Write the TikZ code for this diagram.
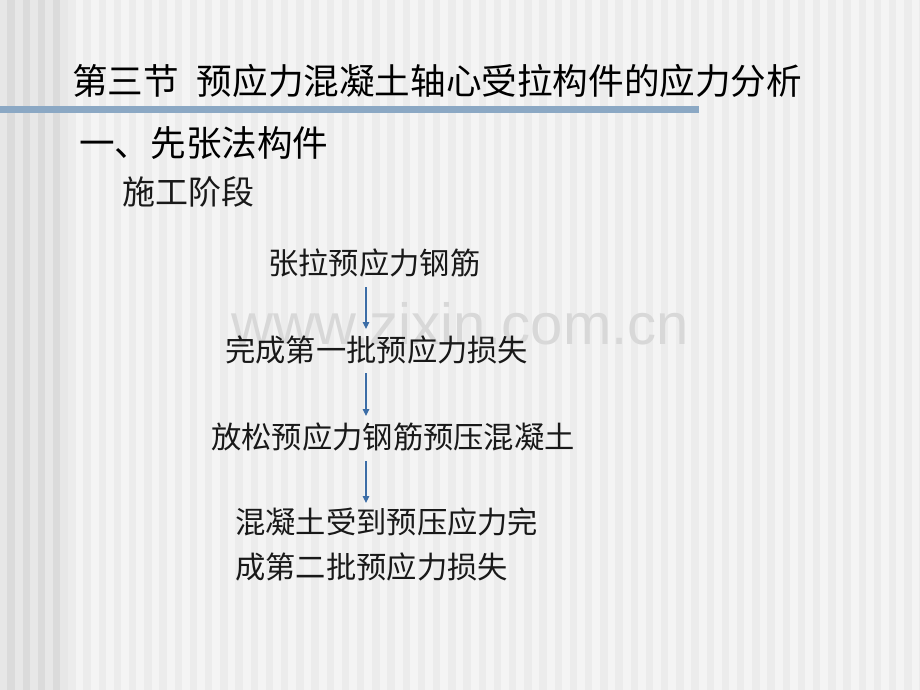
\documentclass[tikz,border=0pt]{standalone}
\usepackage{fontspec}
\newfontfamily\cjk{Noto Sans CJK SC}
\setmainfont{Liberation Sans}
\usetikzlibrary{arrows.meta}
\definecolor{bglight}{HTML}{F4F4F4}
\definecolor{bgdark}{HTML}{ECECEC}
\definecolor{edgelight}{HTML}{E7E7E7}
\definecolor{edgedark}{HTML}{DBDBDB}
\definecolor{barblue}{HTML}{8BA8C4}
\definecolor{arrblue}{HTML}{3C6DA6}
\definecolor{wmgray}{HTML}{D8D8D8}
\tikzset{
  titletext/.style={anchor=base west,inner sep=0pt,font=\cjk\fontsize{35.6}{40}\selectfont,text=black},
  subtext/.style={anchor=base west,inner sep=0pt,font=\cjk\fontsize{33}{38}\selectfont,text=black!90},
  flowtext/.style={anchor=base west,inner sep=0pt,font=\cjk\fontsize{30.3}{45}\selectfont,text=black!90},
  arr/.style={draw=arrblue,line width=1.2pt,-{Triangle[length=7pt,width=6.5pt]}}
}
\begin{document}
\begin{tikzpicture}[x=1pt,y=-1pt]
\useasboundingbox (0,0) rectangle (920,690);
% background
\fill[bglight] (0,0) rectangle (920,690);
\foreach \i in {0,...,60} {\fill[bgdark] (7.3+15.2*\i,0) rectangle ++(7.5,690);}
\fill[edgelight] (0,0) rectangle (68,690);
\foreach \i in {0,...,3} {\fill[edgedark] (7.3+15.2*\i,0) rectangle ++(7.5,690);}
\fill[barblue] (0,106) rectangle (699,113.5);
% watermark
\node[anchor=base west,inner sep=0pt,text depth=0pt,font=\fontsize{58}{60}\selectfont,text=wmgray] (wm) at (231,344) {www.zixin.com.cn};
% titles
\node[titletext] (title) at (72,95) {第三节\hspace{0.5em}预应力混凝土轴心受拉构件的应力分析};
\node[titletext] (sub) at (79,156.5) {一、先张法构件};
\node[subtext] (stage) at (122,204.5) {施工阶段};
% flow
\node[flowtext] (n1) at (268,274) {张拉预应力钢筋};
\node[flowtext] (n2) at (225,361) {完成第一批预应力损失};
\node[flowtext] (n3) at (211,448) {放松预应力钢筋预压混凝土};
\node[flowtext] (n4) at (235,533) {混凝土受到预压应力完};
\node[flowtext] (n5) at (235,578) {成第二批预应力损失};
\coordinate (ax) at (366,0);
\draw[arr] ([yshift=-13pt]n1.base -| ax) -- ([yshift=32pt]n2.base -| ax);
\draw[arr] ([yshift=-12pt]n2.base -| ax) -- ([yshift=32pt]n3.base -| ax);
\draw[arr] ([yshift=-13pt]n3.base -| ax) -- ([yshift=30pt]n4.base -| ax);
\end{tikzpicture}
\end{document}
